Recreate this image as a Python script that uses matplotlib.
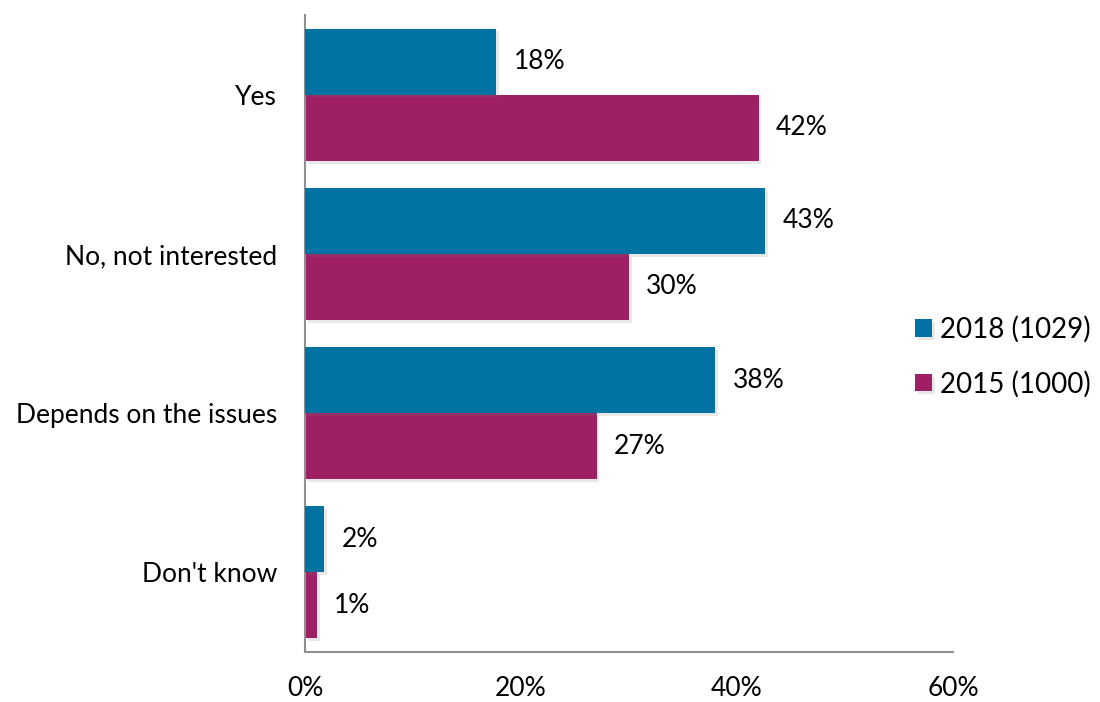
import matplotlib.pyplot as plt
import matplotlib.patheffects as pe
import numpy as np

categories = ["Yes", "No, not interested", "Depends on the issues", "Don't know"]
series_2018 = [17.7, 42.6, 38.0, 1.8]
series_2015 = [42.0, 30.0, 27.0, 1.1]
labels_2018 = ["18%", "43%", "38%", "2%"]
labels_2015 = ["42%", "30%", "27%", "1%"]
series_names = ["2018 (1029)", "2015 (1000)"]
xticks = [0, 20, 40, 60]

BLUE = "#0073a2"
MAGENTA = "#9e1f63"
FS = 19

plt.rcParams["font.family"] = ["Lato", "DejaVu Sans"]

fig = plt.figure(figsize=(11, 7.02), dpi=100)
ax = fig.add_axes([0.2773, 0.0712, 0.5891, 0.9074])

y = np.arange(len(categories))
h = 0.415
shadow = [pe.SimplePatchShadow(offset=(2, -2), alpha=0.18, shadow_rgbFace="gray"), pe.Normal()]

b1 = ax.barh(y - h / 2, series_2018, height=h, color=BLUE, label=series_names[0], zorder=3)
b2 = ax.barh(y + h / 2, series_2015, height=h, color=MAGENTA, label=series_names[1], zorder=2)
for bars in (b1, b2):
    for p in bars:
        p.set_path_effects(shadow)

for yi, v, t in zip(y - h / 2, series_2018, labels_2018):
    ax.text(v + 1.6, yi, t, va="center", ha="left", fontsize=FS)
for yi, v, t in zip(y + h / 2, series_2015, labels_2015):
    ax.text(v + 1.6, yi, t, va="center", ha="left", fontsize=FS)

ax.set_ylim(len(categories) - 0.5, -0.5)
ax.set_xlim(0, 60)
ax.set_yticks(y)
ax.set_yticklabels(categories, fontsize=FS)
ax.set_xticks(xticks)
ax.set_xticklabels([f"{t}%" for t in xticks], fontsize=FS)
ax.tick_params(axis="both", length=0)
ax.tick_params(axis="y", pad=20)
ax.tick_params(axis="x", pad=17)

for s in ("top", "right"):
    ax.spines[s].set_visible(False)
for s in ("left", "bottom"):
    ax.spines[s].set_color("#909090")
    ax.spines[s].set_linewidth(1.5)

fig.legend(handles=[b1, b2], labels=series_names, loc="center left",
           bbox_to_anchor=(0.832, 0.492), borderaxespad=0, borderpad=0, frameon=False,
           fontsize=20, handlelength=0.6, handleheight=0.6, handletextpad=0.3,
           labelspacing=1.0)

fig.savefig("out.png", dpi=100)
